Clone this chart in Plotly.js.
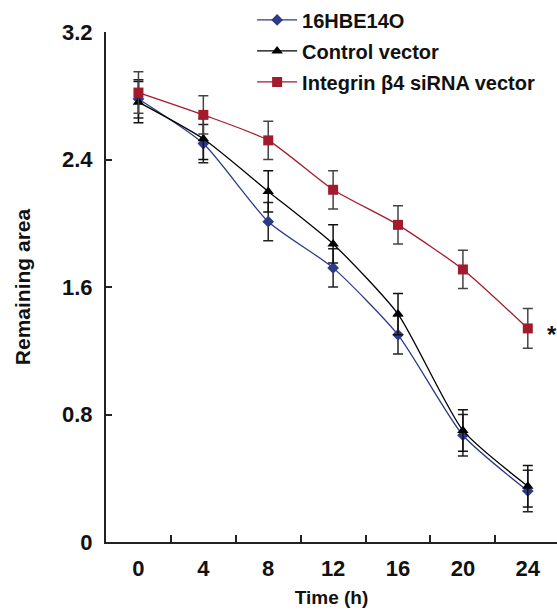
<!DOCTYPE html>
<html>
<head>
<meta charset="utf-8">
<script src="https://cdn.plot.ly/plotly-3.0.1.min.js"></script>
<style>html,body{margin:0;padding:0;background:#fff;}#chart{width:557px;height:614px;}</style>
</head>
<body>
<div id="chart"></div>
<script>
const timeH = [0, 4, 8, 12, 16, 20, 24];
const tickLabels = ['0', '4', '8', '12', '16', '20', '24'];
const midTicks = [2, 6, 10, 14, 18, 22];
const yTicks = [0, 0.8, 1.6, 2.4, 3.2];
const yTickLabels = ['0', '0.8', '1.6', '2.4', '3.2'];

const hbeName = '16HBE14O';
const hbeVals = [2.78, 2.50, 2.01, 1.72, 1.30, 0.67, 0.32];
const hbeErr = [0.12, 0.12, 0.12, 0.12, 0.12, 0.13, 0.13];

const ctrlName = 'Control vector';
const ctrlVals = [2.76, 2.53, 2.20, 1.87, 1.43, 0.70, 0.35];
const ctrlErr = [0.13, 0.13, 0.13, 0.12, 0.13, 0.13, 0.13];

const sirnaName = 'Integrin \u03b24 siRNA vector';
const sirnaVals = [2.82, 2.68, 2.52, 2.21, 1.99, 1.71, 1.34];
const sirnaErr = [0.13, 0.12, 0.12, 0.12, 0.12, 0.12, 0.125];

const FONT = 'Liberation Sans, Arial, sans-serif';

function series(name, vals, err, color, ebColor, symbol, msize, group) {
  return {
    type: 'scatter', mode: 'lines+markers', name: name,
    x: timeH, y: vals, legendgroup: group,
    line: {color: color, width: 1.3, shape: 'spline', smoothing: 0.6},
    marker: {symbol: symbol, size: msize, color: color},
    error_y: {type: 'data', array: err, visible: true, color: ebColor, thickness: 1.5, width: 5}
  };
}

const data = [
  series(hbeName, hbeVals, hbeErr, '#2c3a8a', '#222222', 'diamond', 9, 'a'),
  series(ctrlName, ctrlVals, ctrlErr, '#000000', '#111111', 'triangle-up', 10, 'b'),
  series(sirnaName, sirnaVals, sirnaErr, '#a31a2c', '#444444', 'square', 10, 'c'),
  {type: 'scatter', x: midTicks, y: midTicks.map(() => null), xaxis: 'x2', showlegend: false, hoverinfo: 'skip'}
];

const layout = {
  width: 557, height: 614,
  margin: {l: 106, r: 0, t: 17, b: 72},
  paper_bgcolor: '#ffffff', plot_bgcolor: '#ffffff',
  font: {family: FONT, color: '#111111'},
  showlegend: true,
  legend: {
    x: 0.324, xanchor: 'left', y: 1.062, yanchor: 'top',
    font: {family: FONT, size: 20, color: '#111111', weight: 'bold'},
    traceorder: 'grouped', tracegroupgap: 2, itemwidth: 40,
    bgcolor: 'rgba(0,0,0,0)', borderwidth: 0
  },
  xaxis: {
    range: [-2, 25.8], tickvals: timeH, ticktext: tickLabels,
    ticks: '', showgrid: false, zeroline: false,
    showline: true, linecolor: '#222222', linewidth: 2,
    tickfont: {family: FONT, size: 22, color: '#111111', weight: 'bold'},
    ticklabelstandoff: 6,
    title: {text: 'Time (h)', font: {family: FONT, size: 19, color: '#111111', weight: 'bold'}, standoff: 10}
  },
  xaxis2: {
    overlaying: 'x', range: [-2, 25.8], tickvals: midTicks,
    ticks: 'inside', ticklen: 7, tickwidth: 2, tickcolor: '#222222',
    showticklabels: false, showgrid: false, zeroline: false, showline: false
  },
  yaxis: {
    range: [0, 3.2], tickvals: yTicks, ticktext: yTickLabels,
    ticks: 'inside', ticklen: 6, tickwidth: 2, tickcolor: '#222222',
    showgrid: false, zeroline: false,
    showline: true, linecolor: '#222222', linewidth: 2,
    tickfont: {family: FONT, size: 22, color: '#111111', weight: 'bold'},
    ticklabelstandoff: 7,
    title: {text: 'Remaining area', font: {family: FONT, size: 21, color: '#111111', weight: 'bold'}, standoff: 26}
  },
  annotations: [{
    x: 24, y: sirnaVals[6], xref: 'x', yref: 'y', text: '*', showarrow: false,
    xshift: 24, yshift: -6,
    font: {family: FONT, size: 24, color: '#111111', weight: 'bold'}
  }]
};

Plotly.newPlot('chart', data, layout, {displayModeBar: false, staticPlot: true});
</script>
</body>
</html>
